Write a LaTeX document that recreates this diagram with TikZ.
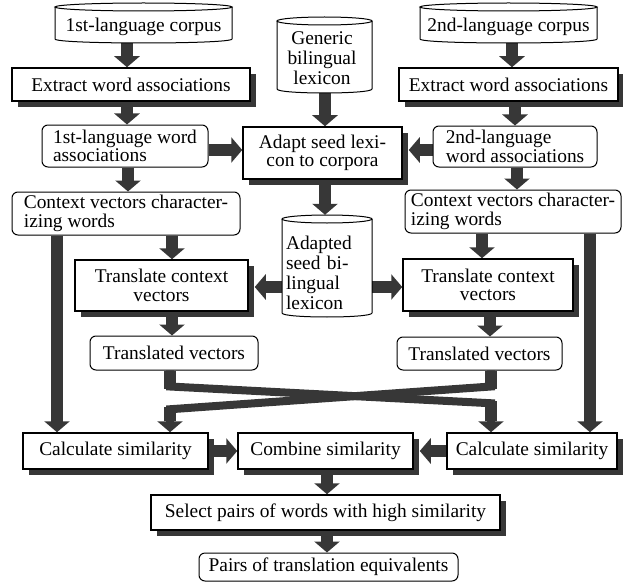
\documentclass[tikz,border=0pt]{standalone}
\usepackage{fontspec}
\setmainfont{Liberation Serif}
\usetikzlibrary{arrows.meta,calc,shadows}
\definecolor{ag}{RGB}{55,55,55}
\pgfdeclarelayer{bg}
\pgfsetlayers{bg,main}
\begin{document}
\begin{tikzpicture}[x=1pt,y=-1pt,
  txt/.style={font=\fontsize{19.4pt}{18.6pt}\selectfont, inner sep=1pt},
  sbox/.style={txt, draw=black, line width=1.5pt, fill=white, align=center,
    drop shadow={shadow xshift=6pt, shadow yshift=-6pt, fill=ag, opacity=1}},
  rbox/.style={txt, draw=black, line width=1pt, fill=white, rounded corners=6pt, align=left},
  ctxt/.style={font=\fontsize{19.4pt}{20pt}\selectfont, inner sep=0pt},
  cyl/.style={draw=black, line width=1pt},
  arr/.style={draw=ag, line width=12pt, -{Triangle[width=25pt,length=11pt]}},
  thick stub/.style={draw=ag, line width=12pt},
]
\useasboundingbox (0,0) rectangle (623,583);

% cylinders
\draw[cyl] (55,7) -- (55,39) .. controls (55,44.33) and (232,44.33) .. (232,39) -- (232,7);
\draw[cyl] (143.5,7) ellipse [x radius=88.5pt, y radius=4pt];
\node[ctxt, minimum width=177pt, minimum height=32pt] (c1) at (143.5,27) {1st-language corpus};

\draw[cyl] (420,7) -- (420,39) .. controls (420,44.33) and (597,44.33) .. (597,39) -- (597,7);
\draw[cyl] (508.5,7) ellipse [x radius=88.5pt, y radius=4pt];
\node[ctxt, minimum width=177pt, minimum height=32pt] (c2) at (508.5,27) {2nd-language corpus};

\draw[cyl] (277,21) -- (277,89) .. controls (277,94.33) and (372,94.33) .. (372,89) -- (372,21);
\draw[cyl] (324.5,21) ellipse [x radius=47.5pt, y radius=4pt];
\node[ctxt, align=center, minimum width=95pt, minimum height=69pt] (gen) at (322,58.5) {Generic\\bilingual\\lexicon};

\draw[cyl] (282,219) -- (282,313) .. controls (282,318.33) and (372,318.33) .. (372,313) -- (372,219);
\draw[cyl] (327,219) ellipse [x radius=45pt, y radius=4pt];
\node[ctxt, align=left, text width=82pt, inner xsep=4pt, minimum width=90pt, minimum height=88pt] (ac) at (327,273) {Adapted\\seed bi-\\lingual\\lexicon};

% boxes
\node[sbox, minimum width=238pt, minimum height=33pt] (el) at (131,84.5) {Extract word associations};
\node[sbox, minimum width=219pt, minimum height=33pt] (er) at (508.5,84.5) {Extract word associations};
\node[sbox, minimum width=159pt, minimum height=52pt] (ad) at (322.5,153) {Adapt seed lexi-\\con to corpora};
\node[rbox, minimum width=166pt, minimum height=42pt] (wl) at (125,146) {1st-language word\\associations};
\node[rbox, minimum width=164pt, minimum height=41pt] (wr) at (515,146.5) {2nd-language\\word associations};
\node[rbox, minimum width=228pt, minimum height=43pt] (vl) at (126,213.5) {Context vectors character-\\izing words};
\node[rbox, minimum width=216pt, minimum height=43pt] (vr) at (513,211.5) {Context vectors character-\\izing words};
\node[sbox, minimum width=173pt, minimum height=51pt] (tl) at (161.5,285.5) {Translate context\\vectors};
\node[sbox, minimum width=170pt, minimum height=52pt] (tr) at (488,285) {Translate context\\vectors};
\node[rbox, minimum width=168pt, minimum height=34pt] (ql) at (174,353) {Translated vectors};
\node[rbox, minimum width=165pt, minimum height=33pt] (qr) at (479.5,353.5) {Translated vectors};
\node[sbox, minimum width=185pt, minimum height=36pt] (cl) at (115.5,451) {Calculate similarity};
\node[sbox, minimum width=175pt, minimum height=36pt] (cb) at (325.5,451) {Combine similarity};
\node[sbox, minimum width=170pt, minimum height=36pt] (cr) at (532,451) {Calculate similarity};
\node[sbox, minimum width=349pt, minimum height=35pt] (se) at (325.5,512.5) {Select pairs of words with high similarity};
\node[rbox, minimum width=259pt, minimum height=28pt] (pr) at (328.5,567) {Pairs of translation equivalents};

\begin{pgfonlayer}{bg}
\draw[arr] ($(c1.south)+(-16.5,0)$) -- ($(c1.south |- el.north)+(-16.5,0)$);
\draw[arr] ($(c2.south)+(3.5,0)$) -- ($(c2.south |- er.north)+(3.5,0)$);
\draw[arr] ($(el.south)+(-4,0)$) -- ($(el.south |- wl.north)+(-4,0)$);
\draw[arr] ($(er.south)+(6.5,0)$) -- ($(er.south |- wr.north)+(6.5,0)$);
\draw[arr] ($(gen.south)+(3,0)$) -- ($(gen.south |- ad.north)+(3,0)$);
\draw[arr] ($(wl.east)+(0,4)$) -- ($(ad.west |- wl.east)+(0,4)$);
\draw[arr] ($(wr.west)+(0,3.5)$) -- ($(ad.east |- wr.west)+(6,3.5)$);
\draw[arr] ($(wl.south)+(3,0)$) -- ($(wl.south |- vl.north)+(3,0)$);
\draw[arr] ($(wr.south)+(2,0)$) -- ($(wr.south |- vr.north)+(2,0)$);
\draw[arr] ($(ad.south)+(2.5,0)$) -- ($(ac.north)+(-2,-14)$);
\draw[arr] ($(vl.south)+(46,0)$) -- ($(tl.north)+(10.5,0)$);
\draw[arr] ($(vr.south)+(-31,0)$) -- ($(tr.north)+(-6,0)$);
\draw[arr] ($(ac.west)+(0,14)$) -- ($(tl.east |- ac.west)+(6,14)$);
\draw[arr] ($(ac.east)+(0,14)$) -- ($(tr.west |- ac.east)+(0,14)$);
\draw[arr] ($(tl.south)+(10.5,0)$) -- ($(ql.north)+(-2,0)$);
\draw[arr] ($(tr.south)+(2,0)$) -- ($(qr.north)+(10.5,0)$);
\draw[arr] ($(vl.south)+(-69,0)$) -- ($(cl.north)+(-58.5,0)$);
\draw[arr] ($(vr.south)+(77,0)$) -- ($(cr.north)+(58,0)$);
% crossing connectors
\draw[arr, line width=8pt] ($(ql.south)+(-4,0)$) -- ++(0,16) -- ($(cr.north)+(-41,-29)$) -- ($(cr.north)+(-41,0)$);
\draw[thick stub] ($(ql.south)+(-4,0)$) -- ++(0,18);
\draw[thick stub] ($(cr.north)+(-41,-31)$) -- ($(cr.north)+(-41,-11)$);
\draw[arr, line width=8pt] ($(qr.south)+(11.5,0)$) -- ++(0,16) -- ($(cl.north)+(54.5,-23)$) -- ($(cl.north)+(54.5,0)$);
\draw[thick stub] ($(qr.south)+(11.5,0)$) -- ++(0,18);
\draw[thick stub] ($(cl.north)+(54.5,-25)$) -- ($(cl.north)+(54.5,-11)$);
% bottom
\draw[arr] (cl.east) -- (cb.west);
\draw[arr] (cr.west) -- ($(cb.east)+(6,0)$);
\draw[arr] ($(cb.south)+(1.5,0)$) -- ($(se.north)+(1.5,0)$);
\draw[arr] ($(se.south)+(1.5,0)$) -- ($(pr.north)+(-1.5,0)$);
\end{pgfonlayer}
\end{tikzpicture}
\end{document}
